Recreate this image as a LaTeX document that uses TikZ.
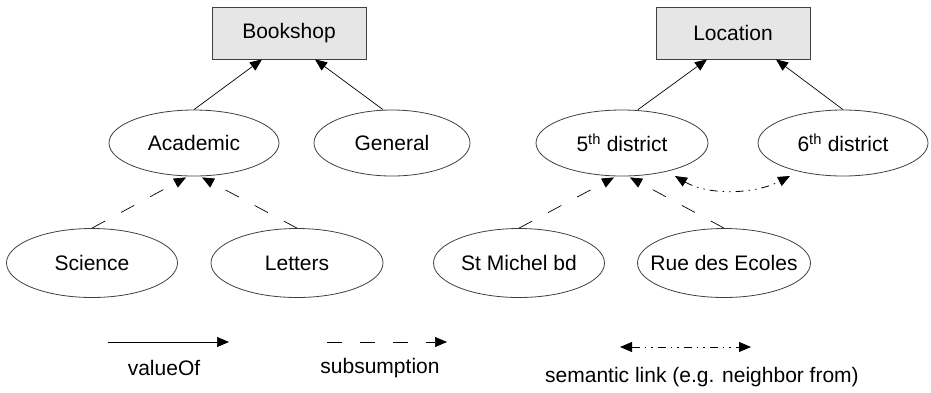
\documentclass[tikz,border=0pt]{standalone}
\usepackage{fontspec}
\setmainfont{Liberation Sans}
\usetikzlibrary{shapes.geometric,arrows.meta,calc}
\definecolor{boxfill}{HTML}{E6E6E6}
\definecolor{edge}{HTML}{404040}
\newcommand\zw[1]{\makebox[0pt]{#1}}
\begin{document}
\begin{tikzpicture}[x=1pt,y=-1pt,
  txt/.style={font=\fontsize{21}{25}\selectfont, text=black},
  cls/.style={txt, rectangle, draw=edge, fill=boxfill, line width=0.8pt, minimum width=154pt, minimum height=52pt, inner sep=0pt},
  val/.style={txt, ellipse, draw=edge, line width=0.8pt, minimum height=66pt, inner sep=0pt},
  vof/.style={-{Triangle[length=12pt,width=10pt]}, line width=0.7pt, draw=black},
  sub/.style={vof, dash pattern=on 15pt off 18pt},
  sem/.style={{Triangle[length=12pt,width=10pt]}-{Triangle[length=12pt,width=10pt]}, line width=0.8pt, dash pattern=on 8pt off 5pt on 1.5pt off 5pt on 1.5pt off 5pt}
]
\useasboundingbox (0,0) rectangle (931,392);

% class boxes
\node[cls] (book) at (289,33) {Bookshop};
\node[cls] (loc) at (733,33) {Location};

% value ellipses
\node[val, minimum width=170pt] (acad) at (194,143) {\zw{Academic}};
\node[val, minimum width=156pt] (gen) at (392,143) {\zw{General}};
\node[val, minimum width=172pt] (d5) at (622,143) {\zw{5\textsuperscript{th} district}};
\node[val, minimum width=170pt] (d6) at (843,143) {\zw{6\textsuperscript{th} district}};

\node[val, minimum width=171pt, minimum height=69pt] (sci) at (92,263) {\zw{Science}};
\node[val, minimum width=172pt, minimum height=69pt] (let) at (297,263) {\zw{Letters}};
\node[val, minimum width=171pt, minimum height=69pt] (stm) at (519,263) {\zw{St Michel bd}};
\node[val, minimum width=173pt, minimum height=69pt] (rue) at (724,263) {\zw{Rue des Ecoles}};

% valueOf connectors
\draw[vof] (acad.north) -- ($(book.south)+(-27,0)$);
\draw[vof] ([xshift=-9pt]gen.north) -- ($(book.south)+(26,0)$);
\draw[vof] ([xshift=16pt]d5.north) -- ($(loc.south)+(-26,0)$);
\draw[vof] (d6.north) -- ($(loc.south)+(43,0)$);

% subsumption connectors
\draw[sub] (sci.north) -- ($(acad.south)+(-8,1)$);
\draw[sub] (let.north) -- ($(acad.south)+(8,1)$);
\draw[sub] (stm.north) -- ($(d5.south)+(-8,1)$);
\draw[sub] (rue.north) -- ($(d5.south)+(8,1)$);

% semantic link
\draw[sem] ($(d5.center)+(53,33)$) .. controls ($(d5.center)+(85,52)$) and ($(d6.center)+(-90,52)$) .. ($(d6.center)+(-53,33)$);

% legend
\coordinate (l1a) at (108,342);
\coordinate (l1b) at (229,342);
\coordinate (l2a) at (327,342);
\coordinate (l2b) at (447,342);
\coordinate (l3a) at (620,347);
\coordinate (l3b) at (751,347);
\draw[vof] (l1a) -- (l1b);
\draw[sub] (l2a) -- (l2b);
\draw[sem] (l3a) -- (l3b);
\node[txt] (t1) at (164,368) {valueOf};
\node[txt] (t2) at (380,368) {subsumption};
\node[txt] (t3) at (702,377) {semantic link (e.g. neighbor from)};
\end{tikzpicture}
\end{document}
